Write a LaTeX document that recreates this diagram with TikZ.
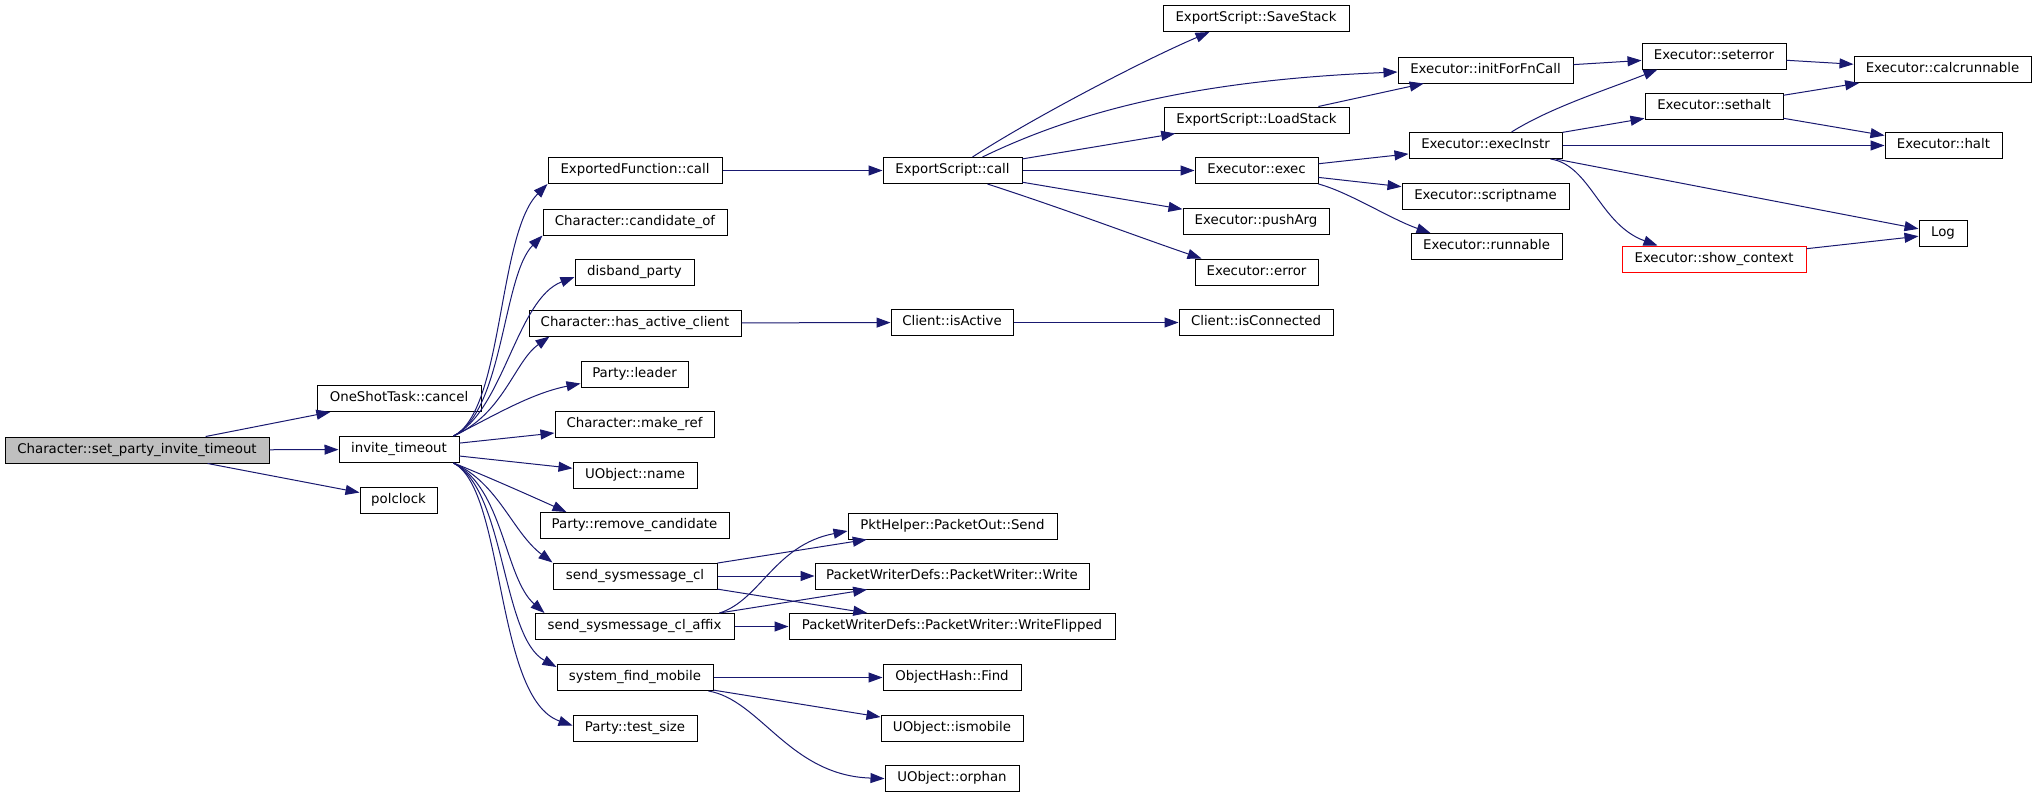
\documentclass[tikz,border=0pt]{standalone}
\usepackage{fontspec}
\usetikzlibrary{arrows.meta,calc}
\newfontfamily\graphfont{DejaVu Sans}
\definecolor{edgeblue}{HTML}{191970}
\definecolor{rootgray}{HTML}{BFBFBF}

\begin{document}
\begin{tikzpicture}[x=0.75pt,y=-0.75pt,
    fnbox/.style={draw=black,fill=white,line width=0.75pt,minimum height=19.5pt,inner sep=0pt,
      font=\graphfont\fontsize{10}{12}\selectfont,text height=7.2pt,text depth=2.2pt},
    boxw/.style={minimum width=#1*0.75pt},
    callarrow/.style={draw=edgeblue,line width=0.75pt,-{Triangle[length=10.5pt,width=7.5pt]}}]
            \useasboundingbox[fill=white] (0,0) rectangle (2037,797);
            % caller and first level
            \node [fnbox,boxw=264,fill=rootgray] (setpit) at (137,450) {Character::set\_party\_invite\_timeout};
            \node [fnbox,boxw=164] (cancel) at (399,398.5) {OneShotTask::cancel};
            \node [fnbox,boxw=120] (invt) at (399,449.5) {invite\_timeout};
            \node [fnbox,boxw=77] (polclock) at (398.5,500) {polclock};
            % second level
            \node [fnbox,boxw=174] (efcall) at (635,170.5) {ExportedFunction::call};
            \node [fnbox,boxw=184] (candof) at (635,222) {Character::candidate\_of};
            \node [fnbox,boxw=119] (disband) at (634.5,272) {disband\_party};
            \node [fnbox,boxw=212] (hasact) at (635,323) {Character::has\_active\_client};
            \node [fnbox,boxw=107] (leader) at (634.5,374) {Party::leader};
            \node [fnbox,boxw=159] (makeref) at (634.5,424.5) {Character::make\_ref};
            \node [fnbox,boxw=124] (uname) at (635,475) {UObject::name};
            \node [fnbox,boxw=189] (remcand) at (634.5,525.5) {Party::remove\_candidate};
            \node [fnbox,boxw=164] (sendcl) at (635,576) {send\_sysmessage\_cl};
            \node [fnbox,boxw=199] (affix) at (634.5,626.5) {send\_sysmessage\_cl\_affix};
            \node [fnbox,boxw=156] (sysfind) at (635,677.5) {system\_find\_mobile};
            \node [fnbox,boxw=124] (testsize) at (635,728.5) {Party::test\_size};
            % third level
            \node [fnbox,boxw=139] (escall) at (952.5,170.5) {ExportScript::call};
            \node [fnbox,boxw=122] (isactive) at (952,322.5) {Client::isActive};
            \node [fnbox,boxw=209] (pktsend) at (952.5,526) {PktHelper::PacketOut::Send};
            \node [fnbox,boxw=274] (pwwrite) at (952,576) {PacketWriterDefs::PacketWriter::Write};
            \node [fnbox,boxw=326] (pwflip) at (952,626.5) {PacketWriterDefs::PacketWriter::WriteFlipped};
            \node [fnbox,boxw=138] (ohfind) at (952,677.5) {ObjectHash::Find};
            \node [fnbox,boxw=142] (ismobile) at (952,728.5) {UObject::ismobile};
            \node [fnbox,boxw=134] (orphan) at (952,778.5) {UObject::orphan};
            % fourth level
            \node [fnbox,boxw=186] (savestk) at (1256,18.5) {ExportScript::SaveStack};
            \node [fnbox,boxw=185] (loadstk) at (1256.5,120) {ExportScript::LoadStack};
            \node [fnbox,boxw=123] (exec) at (1256.5,170.5) {Executor::exec};
            \node [fnbox,boxw=146] (pusharg) at (1256,221.5) {Executor::pushArg};
            \node [fnbox,boxw=123] (error) at (1256.5,272) {Executor::error};
            \node [fnbox,boxw=154] (isconn) at (1256,322.5) {Client::isConnected};
            % fifth level
            \node [fnbox,boxw=175] (initfn) at (1485.5,70) {Executor::initForFnCall};
            \node [fnbox,boxw=153] (execinstr) at (1485.5,145.5) {Executor::execInstr};
            \node [fnbox,boxw=167] (scriptname) at (1485.5,196) {Executor::scriptname};
            \node [fnbox,boxw=151] (runnable) at (1486.5,246.5) {Executor::runnable};
            % sixth and seventh level
            \node [fnbox,boxw=144] (seterror) at (1714,56) {Executor::seterror};
            \node [fnbox,boxw=138] (sethalt) at (1714,106.5) {Executor::sethalt};
            \node [fnbox,boxw=184,draw=red] (showctx) at (1714,259) {Executor::show\_context};
            \node [fnbox,boxw=177] (calcrun) at (1942.5,69.5) {Executor::calcrunnable};
            \node [fnbox,boxw=117] (halt) at (1943.5,145.5) {Executor::halt};
            \node [fnbox,boxw=48] (logn) at (1943,233.5) {Log};

            % calls from the caller
            \draw [callarrow] (setpit) -- (cancel);
            \draw [callarrow] (setpit) -- (invt);
            \draw [callarrow] (setpit) -- (polclock);
            % calls from invite_timeout
            \draw [callarrow] ($(invt.north east)+(-6,0)$) .. controls +(50,-25) and +(-50,50) .. (efcall.south west);
            \draw [callarrow] ($(invt.north east)+(-6,0)$) .. controls +(50,-25) and +(-40,40) .. (candof.south west);
            \draw [callarrow] ($(invt.north east)+(-6,0)$) .. controls +(50,-25) and +(-58,22) .. ($(disband.west)+(0,5)$);
            \draw [callarrow] ($(invt.north east)+(-6,0)$) .. controls +(50,-22) and +(-35,25) .. ($(hasact.south west)+(21,0)$);
            \draw [callarrow] ($(invt.north east)+(-6,0)$) .. controls +(40,-20) and +(-50,10) .. ($(leader.south west)+(0,-4)$);
            \draw [callarrow] (invt) -- (makeref);
            \draw [callarrow] (invt) -- (uname);
            \draw [callarrow] ($(invt.south east)+(-6,0)$) .. controls +(30,12) and +(-40,-18) .. ($(remcand.north west)+(27,0)$);
            \draw [callarrow] ($(invt.south east)+(-6,0)$) .. controls +(45,20) and +(-40,-30) .. (sendcl.north west);
            \draw [callarrow] ($(invt.south east)+(-6,0)$) .. controls +(50,25) and +(-40,-35) .. ($(affix.north west)+(10,0)$);
            \draw [callarrow] ($(invt.south east)+(-6,0)$) .. controls +(52,27) and +(-55,-30) .. ($(sysfind.north west)+(0,3)$);
            \draw [callarrow] ($(invt.south east)+(-6,0)$) .. controls +(52,27) and +(-78,-27) .. ($(testsize.west)+(0,-3)$);
            % second level calls
            \draw [callarrow] (efcall) -- (escall);
            \draw [callarrow] (hasact) -- (isactive);
            \draw [callarrow] (isactive) -- (isconn);
            \draw [callarrow] (sendcl) -- (pktsend);
            \draw [callarrow] (sendcl) -- (pwwrite);
            \draw [callarrow] (sendcl) -- (pwflip);
            \draw [callarrow] ($(affix.north east)+(-15,0)$) .. controls +(41,-13) and +(-73,14) .. ($(pktsend.west)+(0,5)$);
            \draw [callarrow] (affix) -- (pwwrite);
            \draw [callarrow] (affix) -- (pwflip);
            \draw [callarrow] (sysfind) -- (ohfind);
            \draw [callarrow] (sysfind) -- (ismobile);
            \draw [callarrow] ($(sysfind.south east)+(-5,0)$) .. controls +(52,9) and +(-95,-3) .. (orphan.west);
            % ExportScript::call
            \draw [callarrow] ($(escall.north)+(20,0)$) .. controls +(57,-37) and +(-70,30) .. ($(savestk.south west)+(47,0)$);
            \draw [callarrow] ($(escall.north)+(30,0)$) .. controls +(97,-47) and +(-198,8) .. ($(initfn.west)+(0,2)$);
            \draw [callarrow] (escall) -- (loadstk);
            \draw [callarrow] (escall) -- (exec);
            \draw [callarrow] (escall) -- (pusharg);
            \draw [callarrow] ($(escall.south)+(35,0)$) .. controls +(80,26) and +(-70,-24) .. ($(error.north west)+(7,0)$);
            \draw [callarrow] (loadstk) -- (initfn);
            % Executor calls
            \draw [callarrow] (exec) -- (execinstr);
            \draw [callarrow] (exec) -- (scriptname);
            \draw [callarrow] (exec.south east) .. controls +(30,8) and +(-40,-14) .. ($(runnable.north west)+(20,0)$);
            \draw [callarrow] (initfn) -- (seterror);
            \draw [callarrow] ($(execinstr.north)+(26,0)$) .. controls +(40,-25) and +(-50,20) .. ($(seterror.south west)+(16,0)$);
            \draw [callarrow] (execinstr) -- (sethalt);
            \draw [callarrow] (execinstr) -- (halt);
            \draw [callarrow] (execinstr) -- (logn);
            \draw [callarrow] ($(execinstr.south)+(65,0)$) .. controls +(40,6) and +(-58,-21) .. ($(showctx.north west)+(36,0)$);
            \draw [callarrow] (seterror) -- (calcrun);
            \draw [callarrow] (sethalt) -- (calcrun);
            \draw [callarrow] (sethalt) -- (halt);
            \draw [callarrow] (showctx) -- (logn);
        \end{tikzpicture}
\end{document}
